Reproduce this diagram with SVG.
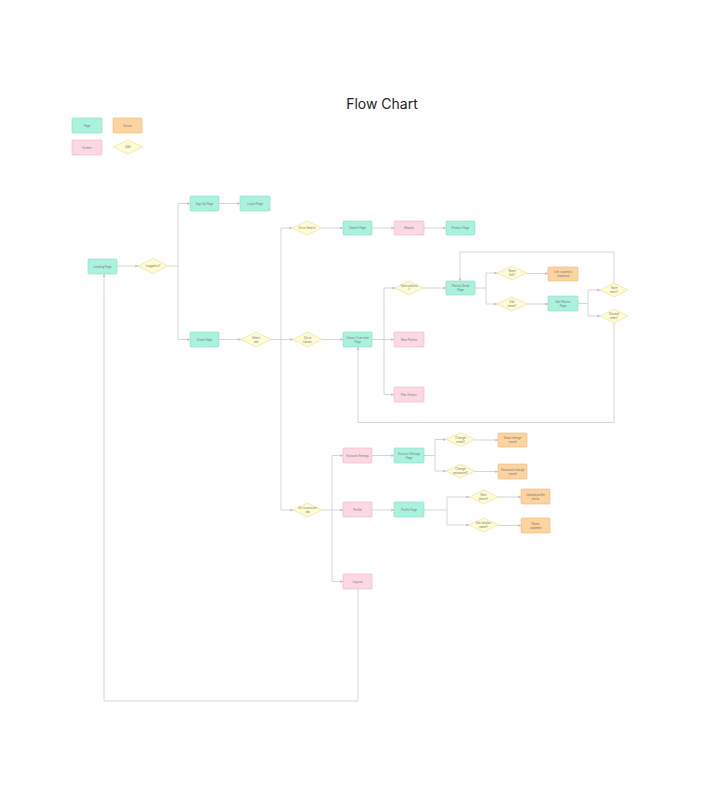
<svg xmlns="http://www.w3.org/2000/svg" width="703" height="798" viewBox="0 0 703 798">
<defs>
<marker id="ah" viewBox="0 0 6 6" refX="5.5" refY="3" markerWidth="3" markerHeight="3" orient="auto"><path d="M0,0 L6,3 L0,6 z" fill="#c4c4c4"/></marker>
<style>
.bg{fill:#ffffff}
.pg{fill:#aaf2de;stroke:#8fd9c4;stroke-width:0.6}
.ac{fill:#fdd3a0;stroke:#e8b97a;stroke-width:0.6}
.sc{fill:#fcd8e3;stroke:#e6b8c6;stroke-width:0.6}
.dc{fill:#fffbd2;stroke:#e6dd9c;stroke-width:0.6}
.ln{fill:none;stroke:#d6d6d6;stroke-width:1}
.ar{marker-end:url(#ah)}
text{font-family:"Inter","Liberation Sans",sans-serif;fill:#777;text-anchor:middle;dominant-baseline:central}
.t{font-size:2.8px}
.title{font-size:14px;fill:#222}
</style>
</defs>
<rect class="bg" width="703" height="798"/>
<text class="title" x="382" y="103">Flow Chart</text>

<g id="legend">
<g id="legend-page"><rect class="pg" x="72" y="118" width="30" height="15" rx="1"/><text class="t" x="87" y="125.5">Page</text></g>
<g id="legend-action"><rect class="ac" x="113" y="118" width="29" height="15" rx="1"/><text class="t" x="127.5" y="125.5">Action</text></g>
<g id="legend-screen"><rect class="sc" x="72" y="140" width="30" height="15" rx="1"/><text class="t" x="87" y="147.5">Screen</text></g>
<g id="legend-decision"><polygon class="dc" points="113,147 128,140 143,147 128,154"/><text class="t" x="128" y="147">Q&amp;A</text></g>
</g>

<g id="connectors">
<path class="ln ar" d="M117,266 H138"/>
<path class="ln" d="M168,266 H178"/>
<path class="ln ar" d="M178,266 V203.5 H190"/>
<path class="ln ar" d="M178,266 V339.5 H190"/>
<path class="ln ar" d="M219,203.5 H240"/>
<path class="ln ar" d="M219,339.5 H241"/>
<path class="ln" d="M271,339.5 H281"/>
<path class="ln ar" d="M281,339.5 V228 H292"/>
<path class="ln ar" d="M281,339.5 H293"/>
<path class="ln ar" d="M281,339.5 V510 H293"/>
<path class="ln ar" d="M322,228 H343"/>
<path class="ln ar" d="M372,228 H394"/>
<path class="ln ar" d="M424,228 H446"/>
<path class="ln ar" d="M322,339.5 H343"/>
<path class="ln" d="M372,339.5 H384"/>
<path class="ln ar" d="M384,339.5 V288 H395"/>
<path class="ln ar" d="M384,339.5 H394"/>
<path class="ln ar" d="M384,339.5 V394.5 H394"/>
<path class="ln ar" d="M423,288 H446"/>
<path class="ln" d="M475,288 H486"/>
<path class="ln ar" d="M486,288 V273 H497"/>
<path class="ln ar" d="M486,288 V304 H497"/>
<path class="ln ar" d="M527,273.5 H548"/>
<path class="ln ar" d="M527,304 H548"/>
<path class="ln" d="M578,303.5 H588"/>
<path class="ln ar" d="M588,303.5 V290 H600"/>
<path class="ln ar" d="M588,303.5 V316 H600"/>
<path class="ln ar" d="M614,283 V252 H460 V281"/>
<path class="ln ar" d="M614,323 V422.5 H358 V347"/>
<path class="ln" d="M322,510 H332"/>
<path class="ln ar" d="M332,510 V455.5 H343"/>
<path class="ln ar" d="M332,510 H343"/>
<path class="ln ar" d="M332,510 V581.5 H343"/>
<path class="ln ar" d="M372,455.5 H394"/>
<path class="ln" d="M424,455.5 H435"/>
<path class="ln ar" d="M435,455.5 V439.5 H446"/>
<path class="ln ar" d="M435,455.5 V471 H446"/>
<path class="ln ar" d="M475,440 H498"/>
<path class="ln ar" d="M475,471.5 H498"/>
<path class="ln ar" d="M372,510 H394"/>
<path class="ln" d="M424,510 H447"/>
<path class="ln ar" d="M447,510 V497 H469"/>
<path class="ln ar" d="M447,510 V525 H469"/>
<path class="ln ar" d="M498,497 H521"/>
<path class="ln ar" d="M498,525.5 H521"/>
<path class="ln ar" d="M358,589 V701 H104 V274"/>
</g>

<g id="n-landing"><rect class="pg" x="88" y="259" width="29" height="15" rx="1"/><text class="t" x="102.5" y="266.5">Landing Page</text></g>
<g id="d-logged"><polygon class="dc" points="138,266 153,258.5 168,266 153,273.5"/><text class="t" x="153" y="266">Logged in?</text></g>
<g id="n-signup"><rect class="pg" x="190" y="196" width="29" height="15" rx="1"/><text class="t" x="204.5" y="203.5">Sign Up Page</text></g>
<g id="n-login"><rect class="pg" x="240" y="196" width="30" height="15" rx="1"/><text class="t" x="255" y="203.5">Log In Page</text></g>
<g id="n-home"><rect class="pg" x="190" y="332" width="29" height="15" rx="1"/><text class="t" x="204.5" y="339.5">Home Page</text></g>
<g id="d-tab"><polygon class="dc" points="241,339.5 256,332 271,339.5 256,347"/><text class="t" x="256" y="337.5">Select</text><text class="t" x="256" y="341.5">tab</text></g>

<g id="d-search"><polygon class="dc" points="292,228 307,221 322,228 307,235"/><text class="t" x="307" y="228">Go to Search</text></g>
<g id="n-searchpage"><rect class="pg" x="343" y="221" width="29" height="14" rx="1"/><text class="t" x="357.5" y="228">Search Page</text></g>
<g id="n-results"><rect class="sc" x="394" y="221" width="30" height="14" rx="1"/><text class="t" x="409" y="228">Results</text></g>
<g id="n-product"><rect class="pg" x="446" y="221" width="29" height="14" rx="1"/><text class="t" x="460.5" y="228">Product Page</text></g>

<g id="d-library"><polygon class="dc" points="293,339.5 307.5,332 322,339.5 307.5,347"/><text class="t" x="307.5" y="337.5">Go to</text><text class="t" x="307.5" y="341.5">Library</text></g>
<g id="n-librarypage"><rect class="pg" x="343" y="332" width="29" height="15" rx="1"/><text class="t" x="357.5" y="337.5">Library Overview</text><text class="t" x="357.5" y="341.5">Page</text></g>
<g id="d-playlist"><polygon class="dc" points="395,288 409,281 423,288 409,295"/><text class="t" x="409" y="286">Open playlist</text><text class="t" x="409" y="290">?</text></g>
<g id="n-playlist"><rect class="pg" x="446" y="281" width="29" height="14" rx="1"/><text class="t" x="460.5" y="286">Playlist Detail</text><text class="t" x="460.5" y="290">Page</text></g>
<g id="d-share"><polygon class="dc" points="497,273 512,266 527,273 512,280"/><text class="t" x="512" y="271">Share</text><text class="t" x="512" y="275">link?</text></g>
<g id="n-copylink"><rect class="ac" x="548" y="267" width="30" height="14" rx="1"/><text class="t" x="563" y="272">Link copied to</text><text class="t" x="563" y="276">clipboard</text></g>
<g id="d-edit"><polygon class="dc" points="497,304 512,297 527,304 512,311"/><text class="t" x="512" y="302">Edit</text><text class="t" x="512" y="306">items?</text></g>
<g id="n-editpage"><rect class="pg" x="548" y="296" width="30" height="15" rx="1"/><text class="t" x="563" y="301.5">Edit Playlist</text><text class="t" x="563" y="305.5">Page</text></g>
<g id="d-save"><polygon class="dc" points="600,290 614,283 628,290 614,297"/><text class="t" x="614" y="288">Save</text><text class="t" x="614" y="292">edits?</text></g>
<g id="d-cancel"><polygon class="dc" points="600,316 614,309 628,316 614,323"/><text class="t" x="614" y="314">Discard</text><text class="t" x="614" y="318">edits?</text></g>
<g id="n-newlist"><rect class="sc" x="394" y="332" width="30" height="15" rx="1"/><text class="t" x="409" y="339.5">New Playlist</text></g>
<g id="n-history"><rect class="sc" x="394" y="387" width="30" height="15" rx="1"/><text class="t" x="409" y="394.5">Play History</text></g>

<g id="d-account"><polygon class="dc" points="293,510 307.5,503 322,510 307.5,517"/><text class="t" x="307.5" y="508">Go to account</text><text class="t" x="307.5" y="512">tab</text></g>
<g id="n-settings"><rect class="sc" x="343" y="448" width="29" height="15" rx="1"/><text class="t" x="357.5" y="455.5">Account Settings</text></g>
<g id="n-settingspage"><rect class="pg" x="394" y="448" width="30" height="15" rx="1"/><text class="t" x="409" y="453.5">Account Settings</text><text class="t" x="409" y="457.5">Page</text></g>
<g id="d-email"><polygon class="dc" points="446,439.5 460.5,432.5 475,439.5 460.5,446.5"/><text class="t" x="460.5" y="437.5">Change</text><text class="t" x="460.5" y="441.5">email?</text></g>
<g id="n-email"><rect class="ac" x="498" y="433" width="29" height="14" rx="1"/><text class="t" x="512.5" y="438">Email change</text><text class="t" x="512.5" y="442">saved</text></g>
<g id="d-pass"><polygon class="dc" points="446,471 460.5,464 475,471 460.5,478"/><text class="t" x="460.5" y="469">Change</text><text class="t" x="460.5" y="473">password?</text></g>
<g id="n-pass"><rect class="ac" x="498" y="464" width="29" height="15" rx="1"/><text class="t" x="512.5" y="469.5">Password change</text><text class="t" x="512.5" y="473.5">saved</text></g>
<g id="n-profile"><rect class="sc" x="343" y="502" width="29" height="15" rx="1"/><text class="t" x="357.5" y="509.5">Profile</text></g>
<g id="n-profilepage"><rect class="pg" x="394" y="502" width="30" height="15" rx="1"/><text class="t" x="409" y="509.5">Profile Page</text></g>
<g id="d-photo"><polygon class="dc" points="469,497 483.5,490 498,497 483.5,504"/><text class="t" x="483.5" y="495">New</text><text class="t" x="483.5" y="499">photo?</text></g>
<g id="n-photo"><rect class="ac" x="521" y="489" width="29" height="15" rx="1"/><text class="t" x="535.5" y="494.5">Upload profile</text><text class="t" x="535.5" y="498.5">photo</text></g>
<g id="d-name"><polygon class="dc" points="469,525 483.5,518 498,525 483.5,532"/><text class="t" x="483.5" y="523">Edit display</text><text class="t" x="483.5" y="527">name?</text></g>
<g id="n-name"><rect class="ac" x="521" y="518" width="29" height="15" rx="1"/><text class="t" x="535.5" y="523.5">Name</text><text class="t" x="535.5" y="527.5">updated</text></g>
<g id="n-logout"><rect class="sc" x="343" y="574" width="29" height="15" rx="1"/><text class="t" x="357.5" y="581.5">Log out</text></g>
</svg>
